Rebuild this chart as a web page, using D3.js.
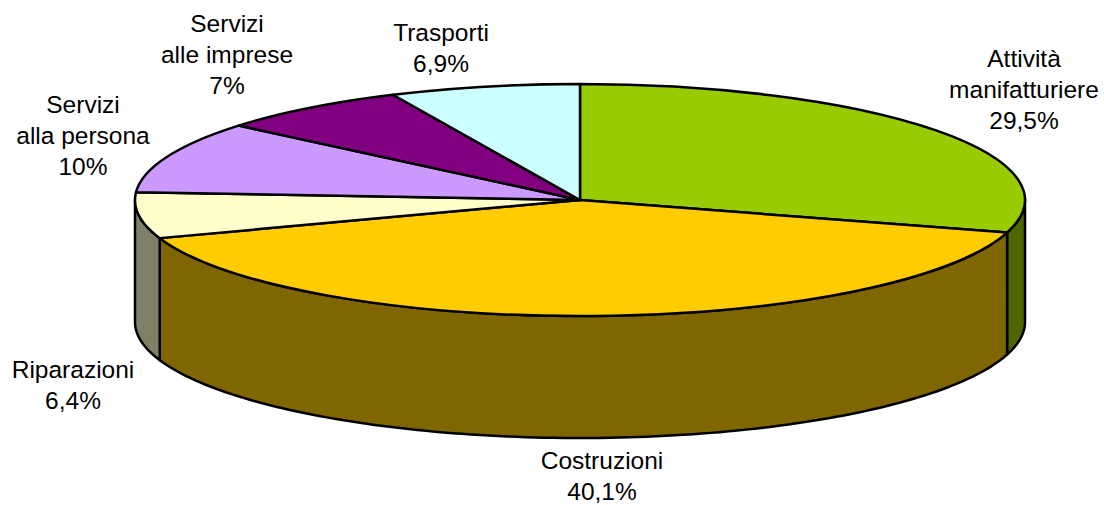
<!DOCTYPE html>
<html>
<head>
<meta charset="utf-8">
<script src="https://cdn.jsdelivr.net/npm/d3@7"></script>
<style>
    html, body { margin: 0; background: #fff; }
    svg { display: block; }
    text { font-family: "Liberation Sans", Arial, sans-serif; font-size: 24.5px; fill: #000; }
</style>
</head>
<body>
<svg width="1104" height="505"></svg>
<script>
// slices, clockwise from 12 o'clock
var categories = ['Attività manifatturiere', 'Costruzioni', 'Riparazioni', 'Servizi alla persona', 'Servizi alle imprese', 'Trasporti'];
var values = [29.5, 40.1, 6.4, 10, 7, 6.9];
var valueLabels = ['29,5%', '40,1%', '6,4%', '10%', '7%', '6,9%'];
var topColors = ['#99cc00', '#ffcc00', '#ffffcc', '#cc99ff', '#800080', '#ccffff'];
var sideColors = ['#4d6600', '#806600', '#808066', '#664d80', '#400040', '#668080'];
// label text split in lines, the value goes last
var labelLines = [['Attività', 'manifatturiere'], ['Costruzioni'], ['Riparazioni'], ['Servizi', 'alla persona'], ['Servizi', 'alle imprese'], ['Trasporti']];
var labelPos = [[1024, 67], [602, 469], [73, 378], [83, 113], [227, 32], [441, 41]];

var svg = d3.select('svg');

// Pie layout parameters
var cx = 580, cy = 200;
var rx = 445, ry = 116;
var depth = 122;

var x = d3.scaleLinear().domain([-1, 1]).range([cx - rx, cx + rx]);
var y = d3.scaleLinear().domain([-1, 1]).range([cy - ry, cy + ry]);

var pie = d3.pie().sort(null);
var slices = pie(values);

function px(a) { return x(Math.sin(a)); }
function py(a) { return y(-Math.cos(a)); }

// outline of the top of a slice, flattened circle
function topPath(d) {
    var p0 = [px(d.startAngle), py(d.startAngle)];
    var p1 = [px(d.endAngle), py(d.endAngle)];
    var large = d.endAngle - d.startAngle > Math.PI ? 1 : 0;
    return 'M' + cx + ',' + cy + 'L' + p0 + 'A' + rx + ',' + ry + ' 0 ' + large + ' 1 ' + p1 + 'Z';
}

// wall of a slice, only the part between 3 and 9 o'clock can be seen
var wallArea = d3.area()
    .x(function(a) { return px(a); })
    .y0(function(a) { return py(a); })
    .y1(function(a) { return py(a) + depth; });

function wallAngles(d) {
    var a0 = Math.max(d.startAngle, Math.PI / 2);
    var a1 = Math.min(d.endAngle, Math.PI * 1.5);
    if (a1 <= a0) return null;
    var steps = 120;
    return d3.range(steps + 1).map(function(i) { return a0 + (a1 - a0) * i / steps; });
}

var visible = slices.filter(function(d) { return wallAngles(d) !== null; });

svg.append('g').selectAll('path')
    .data(visible)
    .enter()
    .append('path')
    .attr('d', function(d) { return wallArea(wallAngles(d)); })
    .attr('fill', function(d) { return sideColors[d.index]; })
    .attr('stroke', '#000')
    .attr('stroke-width', 2.5)
    .attr('stroke-linejoin', 'round');

svg.append('g').selectAll('path')
    .data(slices)
    .enter()
    .append('path')
    .attr('d', topPath)
    .attr('fill', function(d) { return topColors[d.index]; })
    .attr('stroke', '#000')
    .attr('stroke-width', 2.5)
    .attr('stroke-linejoin', 'round');

// labels
var labelG = svg.append('g').selectAll('text')
    .data(categories)
    .enter()
    .append('text')
    .attr('text-anchor', 'middle')
    .attr('transform', function(d, i) { return 'translate(' + labelPos[i] + ')'; });

labelG.selectAll('tspan')
    .data(function(d, i) { return labelLines[i].concat(valueLabels[i]); })
    .enter()
    .append('tspan')
    .attr('x', 0)
    .attr('y', function(d, i) { return i * 31; })
    .text(function(d) { return d; });
</script>
</body>
</html>
